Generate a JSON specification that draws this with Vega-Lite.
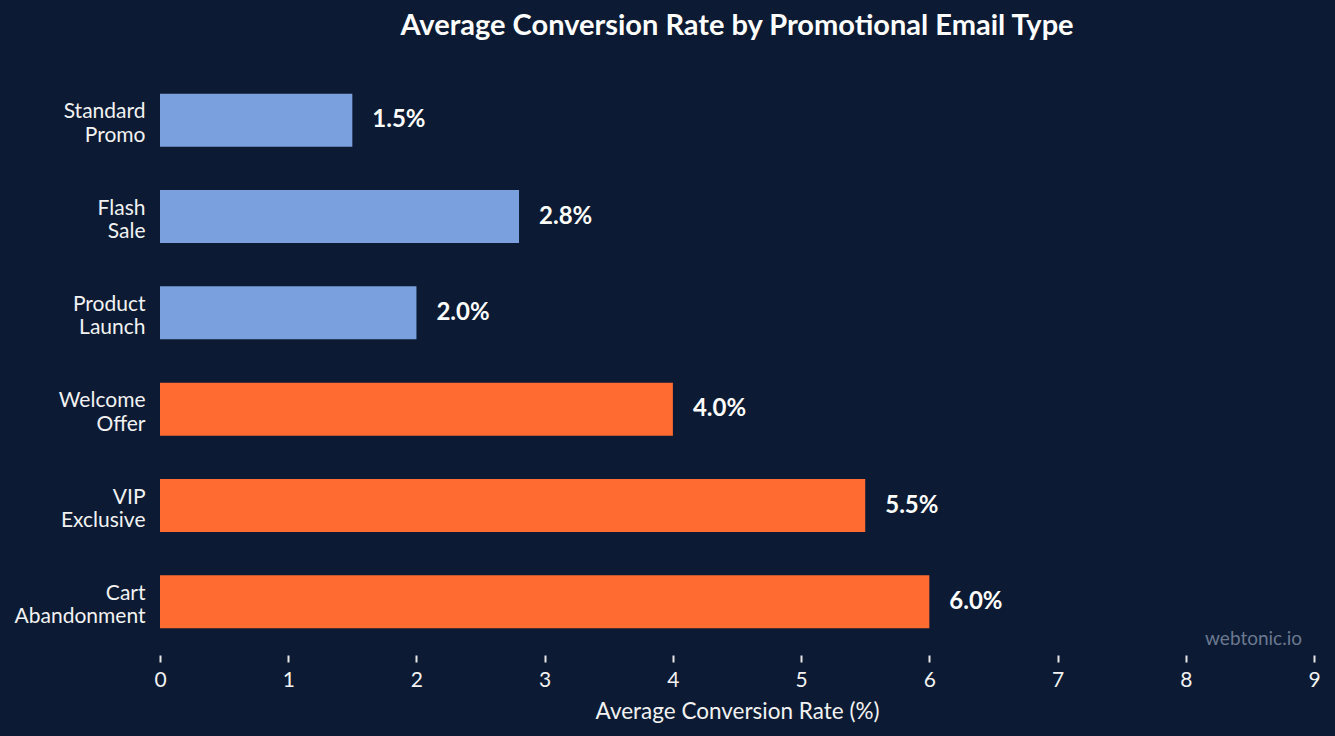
{
  "$schema": "https://vega.github.io/schema/vega-lite/v6.json",
  "autosize": {"type": "none"},
  "width": 1154,
  "height": 578,
  "padding": {"left": 160, "top": 72, "right": 21, "bottom": 86},
  "background": "#0c1b33",
  "config": {
    "view": {"stroke": null},
    "font": "Lato",
    "axis": {"labelFont": "Lato", "titleFont": "Lato"}
  },
  "title": {
    "text": "Average Conversion Rate by Promotional Email Type",
    "font": "Lato",
    "fontSize": 29,
    "fontWeight": "bold",
    "color": "#ffffff",
    "anchor": "middle",
    "offset": 31
  },
  "data": {
    "values": [
      {"type": "Standard Promo", "rate": 1.5, "group": "standard"},
      {"type": "Flash Sale", "rate": 2.8, "group": "standard"},
      {"type": "Product Launch", "rate": 2.0, "group": "standard"},
      {"type": "Welcome Offer", "rate": 4.0, "group": "targeted"},
      {"type": "VIP Exclusive", "rate": 5.5, "group": "targeted"},
      {"type": "Cart Abandonment", "rate": 6.0, "group": "targeted"}
    ]
  },
  "encoding": {
    "y": {
      "field": "type",
      "type": "nominal",
      "sort": null,
      "scale": {"paddingInner": 0.45, "paddingOuter": 0.225},
      "axis": {
        "title": null,
        "domain": false,
        "ticks": false,
        "labelPadding": 15,
        "labelFontSize": 21,
        "labelColor": "#f2f2f2",
        "labelLineHeight": 23.5,
        "labelOffset": -8,
        "labelExpr": "split(datum.value, ' ')"
      }
    },
    "x": {
      "field": "rate",
      "type": "quantitative",
      "scale": {"domain": [0, 9], "nice": false},
      "axis": {
        "title": "Average Conversion Rate (%)",
        "titleFontSize": 22.5,
        "titleFontWeight": "normal",
        "titleColor": "#f2f2f2",
        "titlePadding": 10,
        "domain": false,
        "grid": false,
        "tickCount": 9,
        "tickColor": "#e6e6e6",
        "tickSize": 7,
        "tickWidth": 2,
        "offset": 5,
        "labelFlush": false,
        "labelFontSize": 21,
        "labelColor": "#f2f2f2",
        "labelPadding": 7
      }
    }
  },
  "layer": [
    {
      "mark": {"type": "bar"},
      "encoding": {
        "color": {
          "field": "group",
          "type": "nominal",
          "scale": {"domain": ["standard", "targeted"], "range": ["#7aa1dd", "#ff6b30"]},
          "legend": null
        }
      }
    },
    {
      "mark": {
        "type": "text",
        "align": "left",
        "baseline": "middle",
        "dx": 20,
        "fontSize": 24,
        "fontWeight": "bold",
        "color": "#ffffff",
        "text": {"expr": "format(datum.rate, '.1f') + '%'"}
      }
    },
    {
      "data": {"values": [{"note": "webtonic.io", "pos": 9, "row": "Cart Abandonment"}]},
      "mark": {
        "type": "text",
        "align": "right",
        "baseline": "middle",
        "dx": -12,
        "dy": 37,
        "fontSize": 19,
        "color": "#6b7890"
      },
      "encoding": {
        "x": {"field": "pos", "type": "quantitative"},
        "y": {"field": "row", "type": "nominal"},
        "text": {"field": "note"}
      }
    }
  ]
}
